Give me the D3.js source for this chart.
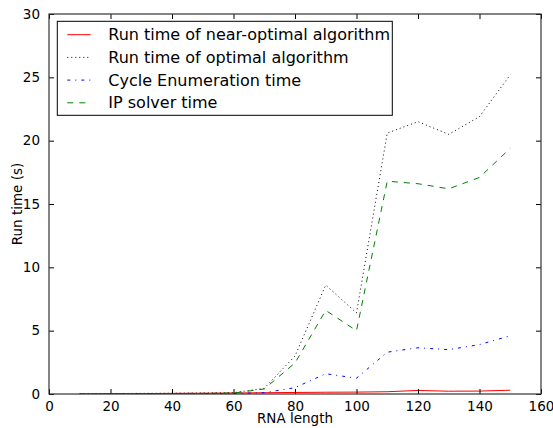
<!DOCTYPE html>
<html>
<head>
<meta charset="utf-8">
<script src="https://cdn.jsdelivr.net/npm/d3@7"></script>
<style>
  body { margin: 0; background: #fff; }
  svg { display: block; font-family: "DejaVu Sans", sans-serif; }
</style>
</head>
<body>
<svg id="chart" width="553" height="428"></svg>
<script>
// RNA lengths on the x axis
const rnaLength = [10, 20, 30, 40, 50, 60, 70, 80, 90, 100, 110, 120, 130, 140, 150];

// run times in seconds
const nearOptimal = [0.01, 0.02, 0.03, 0.05, 0.06, 0.08, 0.1, 0.12, 0.14, 0.15, 0.18, 0.28, 0.22, 0.23, 0.3];
const optimal = [0.02, 0.03, 0.05, 0.06, 0.08, 0.1, 0.45, 3.0, 8.6, 6.4, 20.6, 21.5, 20.5, 21.9, 25.2];
const cycleEnum = [0.01, 0.01, 0.02, 0.02, 0.03, 0.04, 0.1, 0.5, 1.6, 1.25, 3.3, 3.65, 3.5, 3.9, 4.6];
const ipSolver = [0.01, 0.02, 0.03, 0.04, 0.05, 0.07, 0.4, 2.45, 6.6, 5.0, 16.8, 16.6, 16.2, 17.1, 19.4];

const xTicks = [0, 20, 40, 60, 80, 100, 120, 140, 160];
const yTicks = [0, 5, 10, 15, 20, 25, 30];

const series = [
    { name: 'Run time of near-optimal algorithm', values: nearOptimal, color: '#ff0000', dash: null },
    { name: 'Run time of optimal algorithm', values: optimal, color: '#000000', dash: '1,3' },
    { name: 'Cycle Enumeration time', values: cycleEnum, color: '#0000ff', dash: '3,5,1,5' },
    { name: 'IP solver time', values: ipSolver, color: '#008000', dash: '6,6' }
];

const margin = { top: 14, right: 12, bottom: 34, left: 49 };
const width = 553, height = 428;
const innerWidth = width - margin.left - margin.right;
const innerHeight = height - margin.top - margin.bottom;

const svg = d3.select('#chart');
const g = svg.append('g')
    .attr('transform', `translate(${margin.left}, ${margin.top})`);

const x = d3.scaleLinear().domain([0, 160]).range([0, innerWidth]);
const y = d3.scaleLinear().domain([0, 30]).range([innerHeight, 0]);

// lines
const line = d3.line()
    .x((d, i) => x(rnaLength[i]))
    .y(d => y(d));

g.append('defs').append('clipPath').attr('id', 'clip')
    .append('rect').attr('width', innerWidth).attr('height', innerHeight);

const lines = g.append('g').attr('clip-path', 'url(#clip)');
series.forEach(s => {
    lines.append('path')
        .attr('d', line(s.values))
        .attr('fill', 'none')
        .attr('stroke', s.color)
        .attr('stroke-width', 1)
        .attr('stroke-dasharray', s.dash);
});

// axes with inward ticks on all four sides
const tickLen = 5;
const bottomAxis = g.append('g').attr('transform', `translate(0, ${innerHeight})`)
    .call(d3.axisBottom(x).tickValues(xTicks).tickSizeInner(-tickLen).tickSizeOuter(0).tickPadding(7));
const topAxis = g.append('g')
    .call(d3.axisTop(x).tickValues(xTicks).tickSizeInner(-tickLen).tickSizeOuter(0).tickFormat(''));
const leftAxis = g.append('g')
    .call(d3.axisLeft(y).tickValues(yTicks).tickSizeInner(-tickLen).tickSizeOuter(0).tickPadding(9));
const rightAxis = g.append('g').attr('transform', `translate(${innerWidth}, 0)`)
    .call(d3.axisRight(y).tickValues(yTicks).tickSizeInner(-tickLen).tickSizeOuter(0).tickFormat(''));

topAxis.selectAll('text').remove();
rightAxis.selectAll('text').remove();

[bottomAxis, topAxis, leftAxis, rightAxis].forEach(a => {
    a.attr('font-family', 'DejaVu Sans').attr('font-size', 13.5);
    a.select('.domain').remove();
    a.selectAll('.tick line').attr('stroke', '#000');
    a.selectAll('text').attr('fill', '#000');
});

g.append('rect')
    .attr('width', innerWidth)
    .attr('height', innerHeight)
    .attr('fill', 'none')
    .attr('stroke', '#333')
    .attr('stroke-width', 1.2);

// axis labels
svg.append('text')
    .attr('x', margin.left + innerWidth / 2)
    .attr('y', height - 5)
    .attr('text-anchor', 'middle')
    .attr('font-size', 13.5)
    .text('RNA length');

svg.append('text')
    .attr('transform', `translate(22, ${margin.top + innerHeight / 2}) rotate(-90)`)
    .attr('text-anchor', 'middle')
    .attr('font-size', 13.5)
    .text('Run time (s)');

// legend
const legend = g.append('g').attr('transform', 'translate(8.3, 7.3)');
legend.append('rect')
    .attr('width', 335)
    .attr('height', 94)
    .attr('fill', '#fff')
    .attr('stroke', '#000')
    .attr('stroke-width', 1);

series.forEach((s, i) => {
    const row = legend.append('g').attr('transform', `translate(0, ${13.4 + i * 22.7})`);
    row.append('line')
        .attr('x1', 10).attr('x2', 33.4)
        .attr('y1', 0).attr('y2', 0)
        .attr('stroke', s.color)
        .attr('stroke-width', 1)
        .attr('stroke-dasharray', s.dash);
    row.append('text')
        .attr('x', 51)
        .attr('y', 0)
        .attr('dy', '0.35em')
        .attr('font-size', 16)
        .text(s.name);
});
</script>
</body>
</html>
